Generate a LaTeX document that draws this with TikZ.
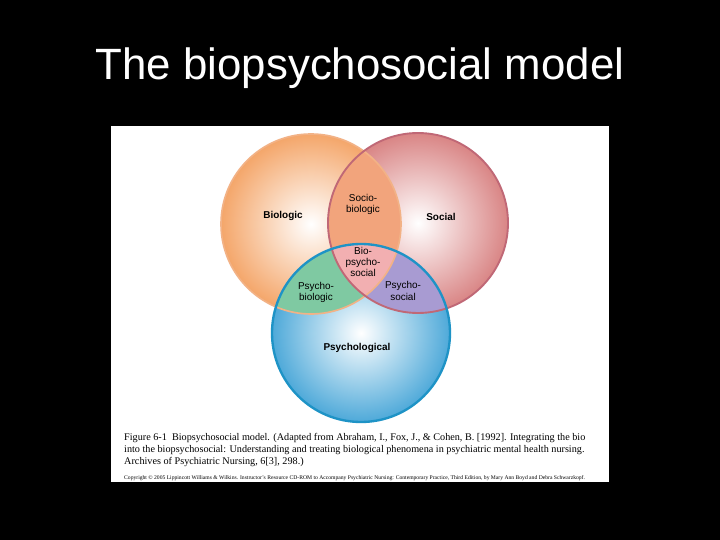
\documentclass[tikz,border=0pt]{standalone}
\usepackage{fontspec}
\setmainfont{Liberation Serif}
\setsansfont{Liberation Sans}
\usetikzlibrary{positioning}
\definecolor{bioorange}{HTML}{F4A66A}
\definecolor{biostroke}{HTML}{F2B286}
\definecolor{socpink}{HTML}{D98585}
\definecolor{socstroke}{HTML}{C06876}
\definecolor{psyblue}{HTML}{4EA9D9}
\definecolor{psystroke}{HTML}{1E93C6}
\definecolor{sbfill}{HTML}{F2A47C}
\definecolor{pbfill}{HTML}{7FC9A2}
\definecolor{psfill}{HTML}{A89BD2}
\definecolor{bpsfill}{HTML}{F2AFB1}
\tikzset{
  big/.style={font=\sffamily\bfseries\fontsize{8.5}{10}\selectfont, text=black},
  small/.style={font=\sffamily\fontsize{8.5}{9.5}\selectfont, align=center, text=black},
  captext/.style={font=\fontsize{8.7}{10.2}\selectfont, align=left, anchor=north west, inner sep=0pt}
}
\begin{document}
\begin{tikzpicture}[x=0.03cm,y=-0.03cm]
  \fill[black] (0,0) rectangle (720,540);
  \useasboundingbox (0,0) rectangle (720,540);
  \node[text=white, font=\sffamily\fontsize{37.4}{42}\selectfont] (title) at (360,68) {The biopsychosocial model};
  \fill[white] (111,126) rectangle (609,482);

  % circles
  \coordinate (cB) at (311,224);
  \coordinate (cS) at (418,223);
  \coordinate (cP) at (361,333);
  \shade[inner color=white, outer color=bioorange] (cB) circle (90);
  \shade[inner color=white, outer color=socpink] (cS) circle (90);
  \shade[inner color=white, outer color=psyblue] (cP) circle (89);

  % overlaps
  \begin{scope}
    \clip (cB) circle (90);
    \fill[sbfill] (cS) circle (90);
    \fill[pbfill] (cP) circle (89);
  \end{scope}
  \begin{scope}
    \clip (cS) circle (90);
    \fill[psfill] (cP) circle (89);
  \end{scope}
  \begin{scope}
    \clip (cB) circle (90);
    \clip (cS) circle (90);
    \fill[bpsfill] (cP) circle (89);
  \end{scope}

  \draw[biostroke, line width=1.4pt] (cB) circle (90);
  \draw[socstroke, line width=1.6pt] (cS) circle (90);
  \draw[psystroke, line width=2pt] (cP) circle (89);

  % labels
  \node[big] (biologic) at (283,216) {Biologic};
  \node[big] (social) at (441,217) {Social};
  \node[big] (psychological) at (357,348) {Psychological};
  \node[small] (sociobio) at (363,204) {Socio-\\biologic};
  \node[small] (biopsychosoc) at (363,262) {Bio-\\psycho-\\social};
  \node[small] (psychobio) at (316,292) {Psycho-\\biologic};
  \node[small] (psychosoc) at (403,291) {Psycho-\\social};

  % caption
  \node[captext] (caption) at (124,433) {Figure 6-1\ \ Biopsychosocial model. (Adapted from Abraham, I., Fox, J., \& Cohen, B. [1992]. Integrating the bio\\
    into the biopsychosocial: Understanding and treating biological phenomena in psychiatric mental health nursing.\\
    Archives of Psychiatric Nursing, 6[3], 298.)};
  \node[captext, font=\fontsize{4.8}{5}\selectfont] (copyright) at (124,475) {Copyright \copyright\ 2005 Lippincott Williams \& Wilkins. Instructor's Resource CD-ROM to Accompany Psychiatric Nursing: Contemporary Practice, Third Edition, by Mary Ann Boyd and Debra Schwarzkopf.};
\end{tikzpicture}
\end{document}
